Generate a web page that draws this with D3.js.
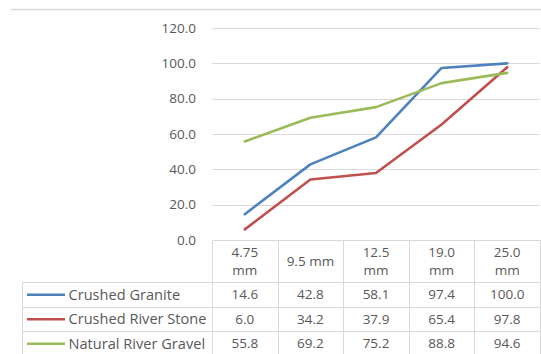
<!DOCTYPE html>
<html><head><meta charset="utf-8">
<script src="https://cdn.jsdelivr.net/npm/d3@7/dist/d3.min.js"></script>
<style>html,body{margin:0;padding:0;background:#fff;}svg{display:block;}</style>
</head><body>
<svg id="chart" width="541" height="354"></svg>
<script>
const categories = ["4.75 mm", "9.5 mm", "12.5 mm", "19.0 mm", "25.0 mm"];
const seriesNames = ["Crushed Granite", "Crushed River Stone", "Natural River Gravel"];
const crushedGranite = [14.6, 42.8, 58.1, 97.4, 100.0];
const crushedRiverStone = [6.0, 34.2, 37.9, 65.4, 97.8];
const naturalRiverGravel = [55.8, 69.2, 75.2, 88.8, 94.6];
const yTicks = [0, 20, 40, 60, 80, 100, 120];
const colors = ["#4F81BD", "#C0504D", "#9BBB59"];

(function () {
const series = [crushedGranite, crushedRiverStone, naturalRiverGravel];
const svg = d3.select("#chart");
const font = "'Open Sans', Lato, sans-serif";
const fs = "13.5px";
const fsName = "14.6px";
const textColor = "#595959";
const gridColor = "#d9d9d9";

const pLeft = 212, pRight = 540, pTop = 28, pBottom = 240;
const x = d3.scaleBand().domain(categories).range([pLeft, pRight]).padding(0);
const y = d3.scaleLinear().domain([0, 120]).range([pBottom, pTop]);

svg.append("line").attr("x1", 11).attr("x2", 541).attr("y1", 9.5).attr("y2", 9.5)
  .attr("stroke", gridColor).attr("stroke-width", 1.5);

svg.append("g").selectAll("line").data(yTicks.filter(d => d > 0)).join("line")
  .attr("x1", pLeft).attr("x2", pRight)
  .attr("y1", d => Math.round(y(d)) + 0.5).attr("y2", d => Math.round(y(d)) + 0.5)
  .attr("stroke", gridColor).attr("stroke-width", 1);

const yAxis = d3.axisLeft(y).tickValues(yTicks).tickFormat(d3.format(".1f")).tickSize(0).tickPadding(0);
const ga = svg.append("g").attr("transform", `translate(196,0)`).call(yAxis);
ga.select(".domain").remove();
ga.selectAll("text").attr("fill", textColor).style("font-family", font).style("font-size", fs);

const line = d3.line().x((d, i) => x(categories[i]) + x.bandwidth() / 2).y(d => y(d));
svg.append("g").selectAll("path").data(series).join("path")
  .attr("d", d => line(d)).attr("fill", "none")
  .attr("stroke", (d, i) => colors[i]).attr("stroke-width", 2.6)
  .attr("stroke-linejoin", "round").attr("stroke-linecap", "round");

const tableLeft = 22, headTop = 240, headBottom = 282, rowH = 24.5;
const tg = svg.append("g");
const rowsBottom = headBottom + rowH * series.length;
const hl = [];
hl.push([pLeft, headTop, pRight, headTop]);
hl.push([tableLeft, headBottom, pRight, headBottom]);
for (let r = 1; r <= series.length; r++) hl.push([tableLeft, headBottom + rowH * r, pRight, headBottom + rowH * r]);
categories.forEach(c => hl.push([x(c), headTop, x(c), rowsBottom]));
hl.push([pRight, headTop, pRight, rowsBottom]);
hl.push([tableLeft, headBottom, tableLeft, rowsBottom]);
tg.selectAll("line").data(hl).join("line")
  .attr("x1", d => Math.round(d[0]) + 0.5).attr("y1", d => Math.round(d[1]) + 0.5)
  .attr("x2", d => Math.round(d[2]) + 0.5).attr("y2", d => Math.round(d[3]) + 0.5)
  .attr("stroke", gridColor).attr("stroke-width", 1);

categories.forEach(c => {
  const cx = x(c) + x.bandwidth() / 2;
  const lines = c.length > 6 ? c.split(" ") : [c];
  const midY = (headTop + headBottom) / 2;
  lines.forEach((t, k) => {
    svg.append("text").attr("x", cx).attr("y", midY + (k - (lines.length - 1) / 2) * 18)
      .attr("dy", "0.35em").attr("text-anchor", "middle").attr("fill", textColor)
      .style("font-family", font).style("font-size", fs).text(t);
  });
});

series.forEach((vals, i) => {
  const cy = headBottom + rowH * i + rowH / 2 + 0.5;
  svg.append("line").attr("x1", 27).attr("x2", 65).attr("y1", cy).attr("y2", cy)
    .attr("stroke", colors[i]).attr("stroke-width", 2.6);
  svg.append("text").attr("x", 68.5).attr("y", cy).attr("dy", "0.35em")
    .attr("fill", textColor).style("font-family", font).style("font-size", fsName).text(seriesNames[i]);
  vals.forEach((v, j) => {
    svg.append("text").attr("x", x(categories[j]) + x.bandwidth() / 2).attr("y", cy).attr("dy", "0.35em")
      .attr("text-anchor", "middle").attr("fill", textColor)
      .style("font-family", font).style("font-size", fs).text(d3.format(".1f")(v));
  });
});
})();
</script>
</body></html>
